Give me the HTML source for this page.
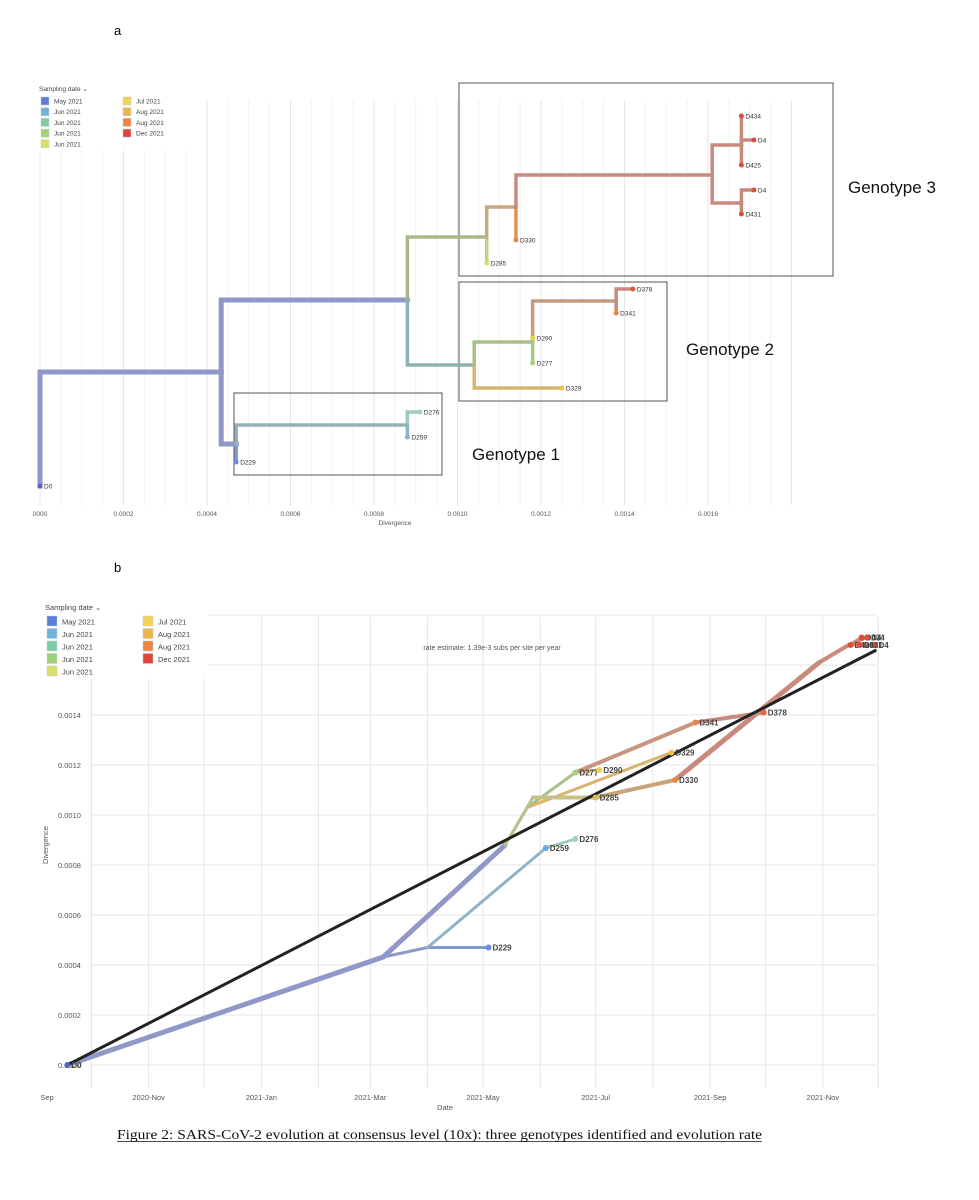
<!DOCTYPE html>
<html><head><meta charset="utf-8"><title>Figure 2</title>
<style>
html,body{margin:0;padding:0;background:#fff;}
body{width:979px;height:1200px;overflow:hidden;position:relative;font-family:"Liberation Sans",sans-serif;}
svg{position:absolute;left:0;top:0;}
</style></head>
<body>
<svg id="fig" width="979" height="1200" viewBox="0 0 979 1200" xmlns="http://www.w3.org/2000/svg">
  <text x="114" y="35" font-size="13" font-family="Liberation Sans" fill="#000">a</text>
  <text x="114" y="572" font-size="13" font-family="Liberation Sans" fill="#000">b</text>
  <g id="gA"></g>
  <g id="gB"></g>
  <text x="117" y="1139" textLength="645" lengthAdjust="spacingAndGlyphs" font-size="13.5" font-family="Liberation Serif" fill="#111">Figure 2: SARS-CoV-2 evolution at consensus level (10x): three genotypes identified and evolution rate</text>
  <line x1="117" y1="1141.5" x2="762" y2="1141.5" stroke="#111" stroke-width="0.8"/>
</svg>
<script>
// ===== Shared legend data =====
const legendLabels = ["May 2021","Jun 2021","Jun 2021","Jun 2021","Jun 2021","Jul 2021","Aug 2021","Aug 2021","Dec 2021"];
const legendColors = ["#5b7fd6","#6fb3d9","#7fcba8","#9fd27a","#d6e06a","#f2d45a","#f0b352","#ec8643","#e0443a"];

// ===== Panel A data (phylogenetic tree) =====
const aNames   = ["root","D0","n1","n3","D229","n4","D276","D259","n2","n5","D285","n7","D330","n8","n9","D434","D4","D425","n10","D4","D431","n6","n11","n12","D378","D341","D290","D277","D329"];
const aParent  = [-1,0,0,2,3,3,5,5,2,8,9,9,11,11,13,14,14,14,13,18,18,8,21,22,23,23,22,22,21];
const aDiv     = [0,0,0.000434,0.00047,0.00047,0.00088,0.00091,0.00088,0.00088,0.00107,0.00107,0.00114,0.00114,0.00161,0.00168,0.00168,0.00171,0.00168,0.00168,0.00171,0.00168,0.00104,0.00118,0.00138,0.00142,0.00138,0.00118,0.00118,0.00125];
const aRow     = [372,486,372,444,462,425,412,437,300,237,263,207,240,175,145,116,140,165,203,190,214,365,342,301,289,313,338,363,388];
const aColor   = ["#8f98c8","#8f98c8","#8f98c8","#8f98c8","#7f9cd2","#93b2b8","#9ecbb6","#8fb3c8","#8f98c8","#a9b88a","#c9cf82","#c8a97e","#e39452","#c98a7e","#c98a7e","#c98a7e","#c98a7e","#c98a7e","#c98a7e","#c98a7e","#c98a7e","#8fb0b0","#a8c08c","#c49a82","#c98a7e","#c98a7e","#d9d06a","#a7c88a","#d8b46e"];
const aTipColor= {"D0":"#5a62c8","D229":"#6f8ee0","D276":"#9fd0c0","D259":"#86b0d6","D285":"#d9df6a","D330":"#e88a4a","D434":"#dd4d3c","D4":"#dd4d3c","D425":"#dd4d3c","D431":"#dd4d3c","D378":"#e0553c","D341":"#e8864a","D290":"#e8d24a","D277":"#a6d27c","D329":"#ecc350"};
const aTicks   = [0,0.0002,0.0004,0.0006,0.0008,0.0010,0.0012,0.0014,0.0016];
const aTickLabels = ["0000","0.0002","0.0004","0.0006","0.0008","0.0010","0.0012","0.0014","0.0016"];

// ===== Panel B data (root-to-tip regression) =====
const bNames  = ["D0","n1","n3","D229","D259","D276","n2","n6","D277","D290","D341","D378","D329","n5","D285","D330","n8","n9","D434","D4a","D425","D4b","D431"];
const bParent = [-1,0,1,2,2,4,1,6,7,8,8,10,7,6,13,14,15,16,17,17,17,17,17];
const bDate   = ["2020-09-18","2021-03-08","2021-04-01","2021-05-04","2021-06-04","2021-06-20","2021-05-13","2021-05-25","2021-06-20","2021-07-03","2021-08-24","2021-09-30","2021-08-11","2021-05-28","2021-07-01","2021-08-13","2021-10-30","2021-11-15","2021-11-22","2021-11-25","2021-11-16","2021-11-29","2021-11-21"];
const bDiv    = [0,0.000432,0.00047,0.00047,0.000868,0.000904,0.00088,0.00103,0.00117,0.00118,0.00137,0.00141,0.00125,0.00107,0.00107,0.00114,0.00161,0.00168,0.00171,0.00171,0.00168,0.00168,0.00168];
const bLabel  = ["D0","","","D229","D259","D276","","","D277","D290","D341","D378","D329","","D285","D330","","","D434","D4","D425","D4","D431"];
const bColor  = ["#8f98c8","#8f98c8","#8f98c8","#7f9cd2","#8fb3c8","#9ecbb6","#8f98c8","#93b2b0","#a8c08c","#d8c07a","#c9957e","#c98a7e","#d8b46e","#b9c08a","#c9bf84","#c9a47a","#c98a7e","#c98a7e","#c98a7e","#c98a7e","#c98a7e","#c98a7e","#c98a7e"];
const bWidth  = [5,5,3,3,3,3,5,3,3,3,4,4,3,3,4,4,5,4,3,3,3,3,3];
const bTipColor = ["#5a62c8","","","#6f8ee0","#6fa8d8","#9fd0c0","","","#a6d27c","#e8d24a","#e8864a","#e8643c","#ecc350","","#d9c04a","#e8864a","","","#dd4d3c","#dd4d3c","#dd4d3c","#dd4d3c","#dd4d3c"];
const bYTicks = [0,0.0002,0.0004,0.0006,0.0008,0.0010,0.0012,0.0014];
const bYTickLabels = ["0.0000","0.0002","0.0004","0.0006","0.0008","0.0010","0.0012","0.0014"];
const bXTicks = ["2020-09-01","2020-11-01","2021-01-01","2021-03-01","2021-05-01","2021-07-01","2021-09-01","2021-11-01"];
const bXTickLabels = ["Sep","2020-Nov","2021-Jan","2021-Mar","2021-May","2021-Jul","2021-Sep","2021-Nov"];
const regDates = ["2020-09-18","2021-11-30"];
const regDivs  = [0,0.00166];

const NS = "http://www.w3.org/2000/svg";
function mk(tag, attrs, parent){ const e=document.createElementNS(NS,tag); for(const k in attrs) e.setAttribute(k,attrs[k]); parent.appendChild(e); return e; }

// ---------- Panel A ----------
const gA = document.getElementById("gA");
const axA = d => 40 + d*417500;
for(let i=0;i<=36;i++){
  const d=i*0.00005;
  const l=mk("line",{x1:axA(d),x2:axA(d),y1:100,y2:505,stroke:(i%4===0)?"#e6e6e6":"#f1f1f1","stroke-width":1},gA);
  
  
}
aTicks.forEach((t,i)=>{
  const tx=mk("text",{x:axA(t),y:516,"text-anchor":"middle","font-size":6.5,fill:"#555"},gA);
  tx.textContent=aTickLabels[i];
  
  
});
{const t=mk("text",{x:395,y:525,"text-anchor":"middle","font-size":6.5,fill:"#555"},gA); t.textContent="Divergence";

}
[[459,83,374,193,"genotype-3-box"],[459,282,208,119,"genotype-2-box"],[234,393,208,82,"genotype-1-box"]].forEach(b=>{
  const r=mk("rect",{x:b[0],y:b[1],width:b[2],height:b[3],fill:"none",stroke:"#555","stroke-width":1},gA);
  
  
});
for(let i=0;i<aNames.length;i++){
  const p=aParent[i]; if(p<0) continue;
  const w=(aColor[i]==="#8f98c8")?5:3.5;
  const px=axA(aDiv[p]), py=aRow[p], cx=axA(aDiv[i]), cy=aRow[i];
  const path=mk("path",{d:`M${px},${py} L${px},${cy} L${cx},${cy}`,fill:"none",stroke:aColor[i],"stroke-width":w,"stroke-linecap":"square"},gA);
  
  
}
for(let i=0;i<aNames.length;i++){
  const n=aNames[i]; if(!aTipColor[n]) continue;
  const c=mk("circle",{cx:axA(aDiv[i]),cy:aRow[i],r:2.5,fill:aTipColor[n]},gA);
  
  
  const t=mk("text",{x:axA(aDiv[i])+4,y:aRow[i]+2.5,"font-size":6.5,fill:"#333"},gA);
  t.textContent=n;
  
  
}
[["Genotype 3",848,193],["Genotype 2",686,355],["Genotype 1",472,460]].forEach(g=>{
  const t=mk("text",{x:g[1],y:g[2],"font-size":17,fill:"#111"},gA);
  t.textContent=g[0];
  
  
});
function legend(g,x0,y0,dy,sw,fs,col2){
  mk("rect",{x:x0-4,y:y0-10,width:col2+70,height:dy*5+14,fill:"#fff"},g);
  const h=mk("text",{x:x0-2,y:y0-2,"font-size":fs,fill:"#444"},g);
  h.textContent="Sampling date ⌄";
  
  
  legendLabels.forEach((lab,i)=>{
    const col=i<5?0:1, row=i<5?i:i-5;
    const x=x0+col*col2, y=y0+4+row*dy;
    const r=mk("rect",{x:x,y:y,width:sw,height:sw,fill:legendColors[i],stroke:"#ccc","stroke-width":0.5},g);
    
    
    const t=mk("text",{x:x+sw+5,y:y+sw-1.5,"font-size":fs,fill:"#444"},g);
    t.textContent=lab;
    
    
  });
}
legend(gA,41,93,10.7,8,6.5,82);

// ---------- Panel B ----------
const gB=document.getElementById("gB");
const day0=Date.UTC(2020,8,1);
const toDays=s=>{const [y,m,d]=s.split("-").map(Number);return (Date.UTC(y,m-1,d)-day0)/86400000;};
const bx=s=>36+toDays(s)*1.847;
const by=d=>1065-d*250000;
for(let m=1;m<=15;m++){
  const dt=new Date(Date.UTC(2020,8+m,1));
  const x=36+((dt-day0)/86400000)*1.847;
  if(x>880) break;
  const l=mk("line",{x1:x,x2:x,y1:617,y2:1088,stroke:"#e6e6e6","stroke-width":1},gB);
  
  
}
for(let k=0;k<=9;k++){
  const y=by(k*0.0002);
  const l=mk("line",{x1:90,x2:877,y1:y,y2:y,stroke:"#e6e6e6","stroke-width":1},gB);
  
  
}
bYTicks.forEach((t,i)=>{
  const tx=mk("text",{x:58,y:by(t)+3,"font-size":7.5,fill:"#555"},gB);
  tx.textContent=bYTickLabels[i];
  
  
});
bXTicks.forEach((t,i)=>{
  const x=i===0?47:bx(t);
  const tx=mk("text",{x:x,y:1100,"text-anchor":"middle","font-size":7.5,fill:"#555"},gB);
  tx.textContent=bXTickLabels[i];
  
  
});
{const t=mk("text",{x:445,y:1110,"text-anchor":"middle","font-size":7.5,fill:"#555"},gB);t.textContent="Date";


const t2=mk("text",{x:0,y:0,"text-anchor":"middle","font-size":7.5,fill:"#555",transform:"translate(48,845) rotate(-90)"},gB);t2.textContent="Divergence";


const t3=mk("text",{x:492,y:650,"text-anchor":"middle","font-size":7,fill:"#555"},gB);t3.textContent="rate estimate: 1.39e-3 subs per site per year";

}
for(let i=0;i<bNames.length;i++){
  const p=bParent[i]; if(p<0) continue;
  const l=mk("line",{x1:bx(bDate[p]),y1:by(bDiv[p]),x2:bx(bDate[i]),y2:by(bDiv[i]),stroke:bColor[i],"stroke-width":bWidth[i],"stroke-linecap":"round"},gB);
  
  
}
{const l=mk("line",{x1:bx(regDates[0]),y1:by(regDivs[0]),x2:bx(regDates[1]),y2:by(regDivs[1]),stroke:"#222","stroke-width":3},gB);

}
for(let i=0;i<bNames.length;i++){
  if(!bTipColor[i]) continue;
  const x=bx(bDate[i]), y=by(bDiv[i]);
  const c=mk("circle",{cx:x,cy:y,r:3,fill:bTipColor[i]},gB);
  
  
  const t=mk("text",{x:x+4,y:y+3,"font-size":8,"font-weight":"bold",fill:"#444"},gB);
  t.textContent=bLabel[i];
  
  
}
legend(gB,47,612,12.5,10,7.5,96);
</script>
</body></html>
